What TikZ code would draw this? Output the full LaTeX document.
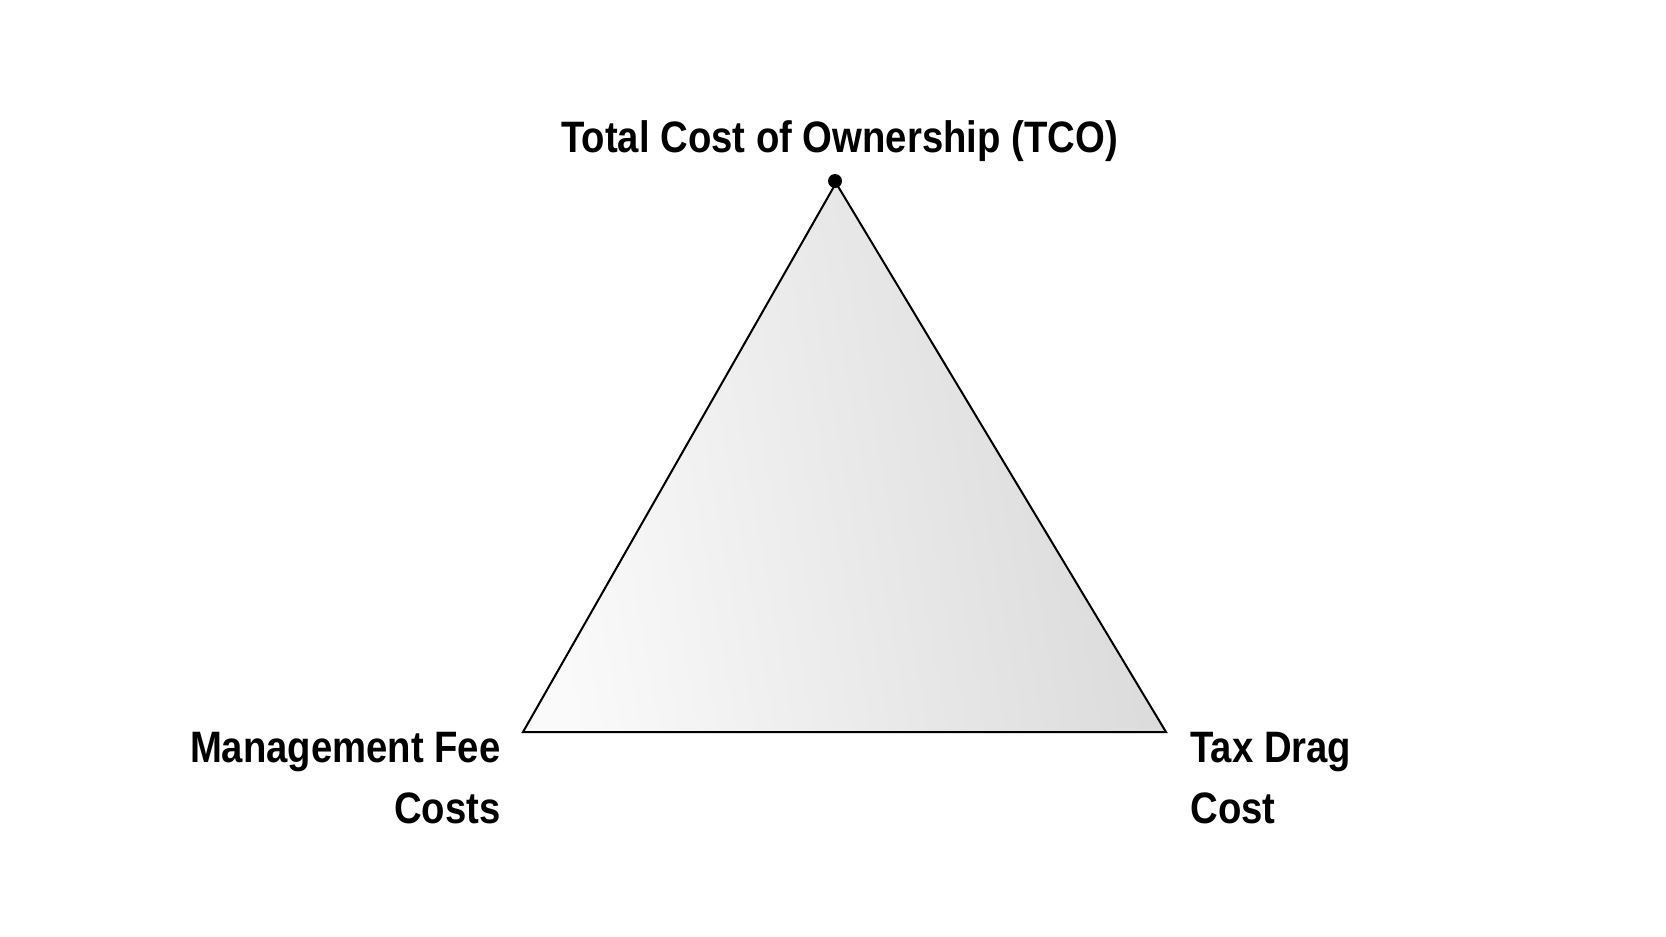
\documentclass[tikz,border=0pt]{standalone}
\usepackage{fontspec}
\setmainfont{Liberation Sans}[FakeStretch=0.87]
\begin{document}
\begin{tikzpicture}[x=0.5pt,y=-0.5pt,
  lbl/.style={font=\bfseries\fontsize{22}{30.5}\selectfont, inner sep=0pt, text=black},
  tri/.style={draw=black, line width=1pt, line join=miter}]
\useasboundingbox (0,0) rectangle (1666,937);
\fill[white] (0,0) rectangle (1666,937);
\coordinate (A) at (836,183);
\coordinate (B) at (523,732);
\coordinate (C) at (1166,732);
\shade[left color=black!2, right color=black!15, shading angle=100] (A) -- (B) -- (C) -- cycle;
\draw[tri] (A) -- (B) -- (C) -- cycle;
\node[circle, fill=black, inner sep=0pt, minimum size=7pt] (apex) at (835,181) {};
\node[lbl, anchor=base] (tco) at (839.5,152) {Total Cost of Ownership (TCO)};
\node[lbl, anchor=base east, align=right] (mgmt) at (501,823) {Management Fee\\Costs};
\node[lbl, anchor=base west, align=left] (tax) at (1190,823) {Tax Drag\\Cost};
\end{tikzpicture}
\end{document}
